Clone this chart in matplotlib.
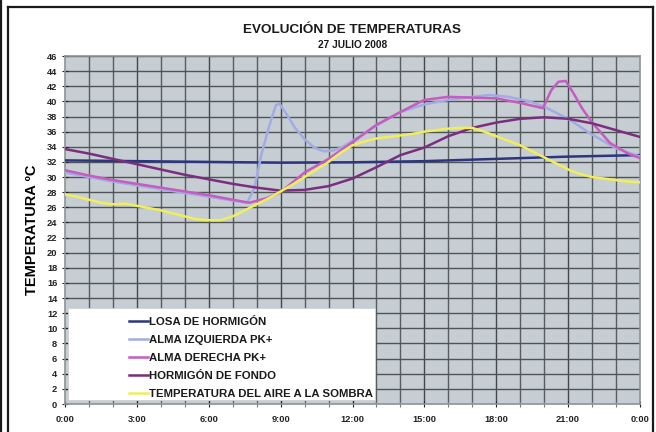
import numpy as np
import matplotlib.pyplot as plt
from matplotlib.lines import Line2D
from matplotlib.patches import Rectangle

plt.rcParams['font.family'] = ['Liberation Sans', 'DejaVu Sans']

# Readings taken off the chart (hour of day, temperature in ºC)
losa_h = [0, 3, 6, 9, 12, 15, 18, 21, 24]
losa_t = [32.2, 32.1, 32.0, 31.9, 31.95, 32.1, 32.4, 32.7, 32.9]

izq_h = [0, 1, 2, 3, 4, 5, 6, 7, 7.6, 7.9, 8.2, 8.5, 8.8, 8.95, 9.25, 9.6, 10.0,
         10.4, 10.8, 11.2, 11.6, 12, 13, 14, 15, 16, 17, 17.7, 18.5, 19.4, 20,
         20.5, 21.1, 21.9, 23, 24]
izq_t = [30.6, 30.0, 29.4, 28.9, 28.4, 27.9, 27.4, 26.9, 26.6, 28.5, 33.0, 36.5,
         39.5, 39.7, 38.3, 36.5, 35.0, 33.9, 33.4, 33.5, 34.0, 34.8, 36.8, 38.6,
         39.6, 40.2, 40.6, 40.85, 40.6, 40.0, 39.3, 38.5, 37.5, 35.8, 33.8, 32.7]

der_h = [0, 1, 2, 3, 4, 5, 6, 7, 7.7, 8.4, 9, 10, 11, 12, 13, 14, 15, 16, 17, 18,
         19, 19.95, 20.3, 20.6, 20.9, 21.2, 21.6, 22, 22.75, 23.5, 24]
der_t = [30.9, 30.2, 29.6, 29.1, 28.6, 28.1, 27.6, 27.0, 26.6, 27.2, 28.0, 30.6,
         32.4, 34.6, 36.9, 38.6, 40.2, 40.6, 40.5, 40.4, 39.8, 39.1, 41.5, 42.6,
         42.7, 41.2, 39.0, 37.2, 34.5, 33.1, 32.5]

fondo_h = list(range(0, 25))
fondo_t = [33.7, 33.1, 32.4, 31.7, 31.0, 30.3, 29.7, 29.1, 28.6, 28.2, 28.3, 28.8,
           29.8, 31.3, 32.9, 33.9, 35.4, 36.5, 37.2, 37.7, 37.9, 37.7, 37.1, 36.2,
           35.3]

aire_h = list(np.arange(0, 24.5, 0.5))
aire_t = [27.7, 27.4, 27.0, 26.6, 26.4, 26.5, 26.2, 25.9, 25.6, 25.2, 24.8, 24.4,
          24.3, 24.3, 24.8, 25.6, 26.4, 27.2, 28.1, 29.0, 30.0, 31.0, 32.0, 33.2,
          34.2, 34.7, 35.1, 35.3, 35.5, 35.7, 36.0, 36.2, 36.4, 36.5, 36.5, 36.0,
          35.4, 34.8, 34.2, 33.4, 32.6, 31.8, 31.0, 30.4, 30.0, 29.8, 29.6, 29.4,
          29.3]

series = [
    ('LOSA DE HORMIGÓN', losa_h, losa_t, '#2b3580'),
    ('ALMA IZQUIERDA PK+', izq_h, izq_t, '#a3aae4'),
    ('ALMA DERECHA PK+', der_h, der_t, '#c65cbf'),
    ('HORMIGÓN DE FONDO', fondo_h, fondo_t, '#7b2d7e'),
    ('TEMPERATURA DEL AIRE A LA SOMBRA', aire_h, aire_t, '#f0ee5c'),
]

hour_labels = ['0:00', '3:00', '6:00', '9:00', '12:00', '15:00', '18:00', '21:00', '0:00']

fig = plt.figure(figsize=(6.56, 4.32), dpi=100)
ax = fig.add_axes([65/656, 28/432, 575/656, 348/432])
ax.set_facecolor('#c6ced3')

# grid
for h in range(1, 24):
    c = '#44484b' if h % 3 == 0 else '#565c60'
    ax.axvline(h, color=c, lw=1.0, zorder=1)
for t in range(2, 47, 2):
    ax.axhline(t, color='#4f5458', lw=1.0, zorder=1)

# white legend panel
ax.add_patch(Rectangle((0.005, 0.011), 0.534, 0.265, transform=ax.transAxes,
                       facecolor='white', edgecolor='#d0d0d0', lw=0.6, zorder=2))

for name, hh, tt, col in series:
    ax.plot(hh, tt, color=col, lw=1.8, label=name, zorder=3)

ax.set_xlim(0, 24)
ax.set_ylim(0, 46)
ax.set_xticks(range(0, 25, 3))
ax.set_xticklabels(hour_labels)
ax.set_xticks(range(0, 25), minor=True)
ax.set_yticks(range(0, 47, 2))
ax.tick_params(axis='both', labelsize=6.7, colors='#222222', length=4,
               direction='inout', width=0.8)
ax.tick_params(axis='x', which='minor', length=4, direction='inout', width=0.8,
               color='#777777')
ax.tick_params(axis='x', pad=6)
for lab in ax.get_xticklabels() + ax.get_yticklabels():
    lab.set_fontweight('bold')
for s in ax.spines.values():
    s.set_color('#8c9396')
    s.set_linewidth(1.2)

leg = ax.legend(loc='upper left', bbox_to_anchor=(0.104, 0.262), frameon=False,
                fontsize=8.2, handlelength=1.6, handletextpad=0.15,
                labelspacing=0.7, borderaxespad=0)
for txt in leg.get_texts():
    txt.set_fontweight('bold')
    txt.set_color('#1a1a1a')
leg.set_zorder(4)

ax.set_ylabel('TEMPERATURA ºC', fontsize=10.5, fontweight='bold', labelpad=6)
fig.text(0.537, 0.931, 'EVOLUCIÓN DE TEMPERATURAS', ha='center', va='center',
         fontsize=9.7, fontweight='bold', color='#1a1a1a')
fig.text(0.537, 0.896, '27 JULIO 2008', ha='center', va='center',
         fontsize=7.3, fontweight='bold', color='#1a1a1a')

# outer frame
fw = 656.0
fh = 432.0
for xs, ys in [([8, 653], [7, 7]), ([8, 8], [7, 432]), ([653, 653], [7, 432]),
               ([1, 1], [0, 432])]:
    fig.add_artist(Line2D([x/fw for x in xs], [1 - y/fh for y in ys],
                          color='#1a1a1a', lw=1.6))

fig.savefig('out.png', dpi=100)
